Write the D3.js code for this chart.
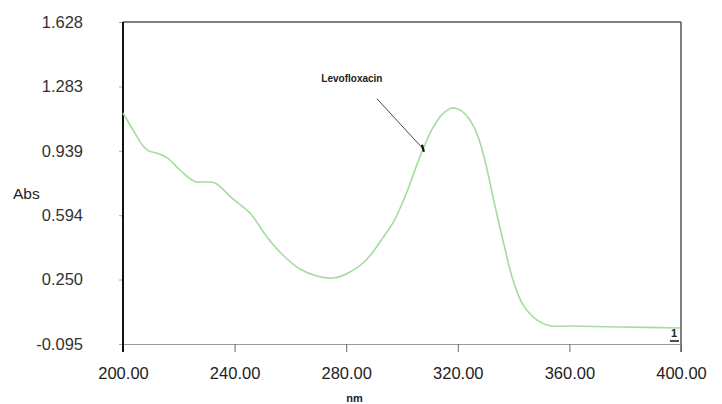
<!DOCTYPE html>
<html>
<head>
<meta charset="utf-8">
<script src="https://cdn.jsdelivr.net/npm/d3@7"></script>
<style>
  body { margin: 0; background: #fff; }
  text { font-family: "Liberation Sans", Arial, sans-serif; fill: #222; }
</style>
</head>
<body>
<div class="graph"></div>
<script>
// spectrum (nm, Abs)
const wavelength = [200, 203.6, 207.2, 209, 213, 216, 220.4, 225.8, 229.4, 233, 239.4, 245.5,
  251.6, 257.3, 263.4, 269.5, 275.3, 281.4, 287.5, 293, 297, 301, 305, 308, 311, 314.5,
  318, 321, 324, 327, 330, 333, 336.5, 339.8, 343.4, 348.4, 353, 360.2, 378.1, 399.6];
const absorbance = [1.141, 1.05, 0.965, 0.94, 0.922, 0.9, 0.836, 0.774, 0.772, 0.766, 0.681, 0.606,
  0.478, 0.381, 0.306, 0.269, 0.258, 0.29, 0.36, 0.47, 0.56, 0.69, 0.85, 0.965, 1.06, 1.135,
  1.168, 1.155, 1.11, 1.025, 0.87, 0.665, 0.44, 0.247, 0.114, 0.033, 0.003, 0.001, -0.004, -0.009];

const yTicks = [-0.095, 0.250, 0.594, 0.939, 1.283, 1.628];
const yTickLabels = ["-0.095", "0.250", "0.594", "0.939", "1.283", "1.628"];
const xTicks = [200, 240, 280, 320, 360, 400];
const xTickLabels = ["200.00", "240.00", "280.00", "320.00", "360.00", "400.00"];

const annotation = {label: "Levofloxacin", wl: 307.5, abs: 0.95};

const margin = {top: 22, right: 41, bottom: 60, left: 123},
  W = 722, H = 404,
  width = W - margin.left - margin.right,
  height = H - margin.top - margin.bottom;

const svg = d3.select(".graph").append("svg")
  .attr("width", W)
  .attr("height", H);

const x = d3.scaleLinear().domain([200, 400]).range([0, width]);
const y = d3.scaleLinear().domain([-0.095, 1.628]).range([height, 0]);

const g = svg.append("g")
  .attr("transform", "translate(" + margin.left + "," + margin.top + ")");

// frame
g.append("line").attr("x1", 0).attr("x2", width).attr("y1", 0).attr("y2", 0)
  .attr("stroke", "#555").attr("stroke-width", 1.5);
g.append("line").attr("x1", width).attr("x2", width).attr("y1", 0).attr("y2", height + 8)
  .attr("stroke", "#555").attr("stroke-width", 1.5);

// x axis
const xAxis = d3.axisBottom(x)
  .tickValues(xTicks)
  .tickFormat((d, i) => xTickLabels[i])
  .tickSize(8)
  .tickSizeOuter(0);
const gx = g.append("g")
  .attr("transform", "translate(0," + height + ")")
  .call(xAxis);
gx.select(".domain").attr("stroke", "#999").attr("stroke-width", 1.2);
gx.selectAll(".tick line").attr("stroke", "#666");
gx.selectAll(".tick text").attr("dy", "1.45em")
  .style("font-size", "16.5px").style("fill", "#222");

// y axis
const yAxis = d3.axisLeft(y)
  .tickValues(yTicks)
  .tickFormat((d, i) => yTickLabels[i])
  .tickSize(4)
  .tickSizeOuter(0);
const gy = g.append("g").call(yAxis);
gy.select(".domain").remove();
gy.selectAll(".tick line").attr("stroke", "#aaa");
gy.selectAll(".tick text").attr("x", -40)
  .style("font-size", "16.5px").style("fill", "#333");
g.append("line").attr("x1", 0).attr("x2", 0).attr("y1", 0).attr("y2", height + 8)
  .attr("stroke", "#111").attr("stroke-width", 2);

// axis titles
svg.append("text").attr("x", 13).attr("y", 199)
  .style("font-size", "15.5px").text("Abs");
svg.append("text").attr("x", margin.left + x(283)).attr("y", 402)
  .attr("text-anchor", "middle").style("font-size", "11px").style("font-weight", "bold").text("nm");

// spectrum
const line = d3.line()
  .curve(d3.curveCatmullRom.alpha(0.5))
  .x((d, i) => x(wavelength[i]))
  .y(d => y(d));
g.append("path")
  .datum(absorbance)
  .attr("fill", "none")
  .attr("stroke", "#a3dd9c")
  .attr("stroke-width", 1.6)
  .attr("d", line);

// annotation
const ax = x(annotation.wl), ay = y(annotation.abs);
g.append("line")
  .attr("x1", ax - 46).attr("y1", ay - 50)
  .attr("x2", ax).attr("y2", ay)
  .attr("stroke", "#333").attr("stroke-width", 0.9);
g.append("line")
  .attr("x1", ax - 1).attr("y1", ay - 4)
  .attr("x2", ax + 1).attr("y2", ay + 3)
  .attr("stroke", "#111").attr("stroke-width", 2.2);
g.append("text")
  .attr("x", ax - 71).attr("y", ay - 67)
  .attr("text-anchor", "middle")
  .style("font-size", "10px").style("font-weight", "bold")
  .text(annotation.label);

// trace number
g.append("text").attr("x", width - 7).attr("y", height - 7)
  .attr("text-anchor", "middle").style("font-size", "11px").style("font-weight", "bold").text("1");
g.append("line").attr("x1", width - 11).attr("x2", width - 2)
  .attr("y1", height - 3).attr("y2", height - 3)
  .attr("stroke", "#111").attr("stroke-width", 1.5);
</script>
</body>
</html>
